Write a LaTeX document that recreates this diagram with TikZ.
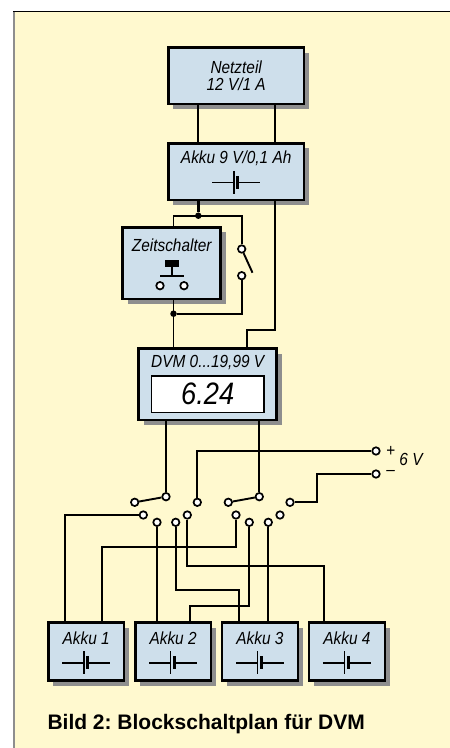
\documentclass[tikz,border=0pt]{standalone}
\usepackage{fontspec}
\setmainfont{Liberation Sans}
\newfontfamily\labelfont[FakeStretch=0.88]{Liberation Sans}
\usepackage{tikz}
\usetikzlibrary{positioning,shadows}
\definecolor{panelyellow}{HTML}{FFF9CF}
\definecolor{boxblue}{HTML}{CEDFEB}
\definecolor{shadowgray}{HTML}{8E8E8E}
\begin{document}
\frenchspacing
\begin{tikzpicture}[
    x=1pt, y=-1pt,
    box/.style={draw, line width=2.5pt, fill=boxblue, outer sep=0pt, inner sep=0pt, align=center,
      font=\labelfont\itshape\fontsize{17.5}{17.6}\selectfont,
      drop shadow={shadow xshift=5pt, shadow yshift=-5pt, fill=shadowgray, opacity=1}},
    smallbox/.style={box, minimum width=75.7pt, minimum height=58pt},
    bigbox/.style={box, minimum width=135.7pt, minimum height=56.5pt},
    lbl/.style={inner sep=0pt, align=center, font=\labelfont\itshape\fontsize{17.5}{17.6}\selectfont},
    note/.style={inner sep=0pt, font=\labelfont\itshape\fontsize{17.5}{17.6}\selectfont},
    contact/.style={draw, circle, fill=white, line width=1.7pt, inner sep=0pt, minimum size=7.5pt},
    dot/.style={circle, fill=black, inner sep=0pt, minimum size=6.5pt},
    wire/.style={line width=1.9pt},
    heavy/.style={line width=3pt},
    battery/.pic={
      \draw[line width=1.7pt] (-24,0) -- (-2.5,0);
      \draw[line width=1.7pt] (1.5,0) -- (24,0);
      \draw[line width=1.7pt] (-2.5,-11.6) -- (-2.5,11.6);
      \draw[line width=3pt] (1.5,-6.3) -- (1.5,6.3);
    }
  ]
    \useasboundingbox (0,0) rectangle (450,748);
    \fill[panelyellow] (13,11) rectangle (450,748);
    \draw[shadowgray, line width=2pt] (14,11) -- (14,748);
    \draw[line width=1pt] (13,11.5) -- (450,11.5);

    \node[bigbox] (netz) at (236.2,75.8) {Netzteil\\12 V/1 A};
    \node[bigbox, below=39.3pt of netz] (akkuN) {};
    \node[lbl] (akkuNtext) at ([yshift=13pt]akkuN.center) {Akku 9 V/0,1 Ah};
    \pic at ([yshift=-10.8pt]akkuN.center) {battery};

    \node[box, minimum width=98pt, minimum height=71.7pt] (zeit) at (171.7,263.2) {};
    \node[lbl] (zeittext) at ([yshift=17.5pt]zeit.center) {Zeitschalter};
    \node[contact] (tasteL) at (160,285.7) {};
    \node[contact] (tasteR) at (184,285.7) {};
    \coordinate (tasteTop) at (172,266.7);
    \fill (165,260) rectangle (179,266.7);
    \draw[wire] (tasteTop) -- (172,275.7);
    \draw[line width=1.9pt] (160,275.7) -- (184,275.7);

    \node[box, minimum width=138pt, minimum height=71.3pt] (dvm) at (207.7,384.3) {};
    \node[lbl] (dvmtext) at ([yshift=21.5pt]dvm.center) {DVM 0...19,99 V};
    \node[draw, fill=white, line width=1.2pt, minimum width=112.7pt, minimum height=36.3pt, inner sep=0pt] (lcd) at (207.7,394.2) {};
    \node[inner sep=0pt, font=\labelfont\itshape\fontsize{31}{33}\selectfont] (lcdtext) at (lcd.center) {6.24};

    \node[smallbox] (akkuA) at (86.2,651.7) {};
    \node[smallbox, right=11.2pt of akkuA] (akkuB) {};
    \node[smallbox, right=11.2pt of akkuB] (akkuC) {};
    \node[smallbox, right=11.2pt of akkuC] (akkuD) {};
    \node[lbl] (akkuAtext) at ([yshift=13.4pt]akkuA.center) {Akku 1};
    \node[lbl] (akkuBtext) at ([yshift=13.4pt]akkuB.center) {Akku 2};
    \node[lbl] (akkuCtext) at ([yshift=13.4pt]akkuC.center) {Akku 3};
    \node[lbl] (akkuDtext) at ([yshift=13.4pt]akkuD.center) {Akku 4};
    \foreach \n in {akkuA,akkuB,akkuC,akkuD}
      \pic at ([yshift=-11pt]\n.center) {battery};

    \node[contact] (swTop) at (241.7,249) {};
    \node[contact] (swBot) at (241.7,275.7) {};
    \coordinate (swEnd) at (252.5,272.7);
    \node[dot] (dotTop) at (198.3,215.7) {};
    \node[dot] (dotBot) at (173.5,313.7) {};

    \node[contact] (poleL) at (166,496.7) {};
    \node[contact] (armL) at (134.7,502.3) {};
    \node[contact] (plusIn) at (197.3,502.3) {};
    \node[contact] (poleR) at (259.3,496.7) {};
    \node[contact] (armR) at (228.3,502.3) {};
    \node[contact] (minusIn) at (290,502.3) {};
    \node[contact] (plus) at (376,451) {};
    \node[contact] (minus) at (376,474) {};
    \node[note] (plustext) at (390.7,451) {+};
    \node[note] (minustext) at (390.7,473.3) {–};
    \node[note] (volt) at (411,459.3) {6 V};

    \node[contact] (la) at (143.3,515) {};
    \node[contact] (lb) at (157,522.3) {};
    \node[contact] (lc) at (175.7,522.3) {};
    \node[contact] (ld) at (187.3,515) {};
    \node[contact] (ra) at (236,515) {};
    \node[contact] (rb) at (249.3,522.3) {};
    \node[contact] (rc) at (268.3,522.3) {};
    \node[contact] (rd) at (280,515) {};

    \node[anchor=base west, inner sep=0pt, font=\bfseries\fontsize{21}{23}\selectfont] (caption) at (47.3,729) {Bild 2: Blockschaltplan für DVM};

    \coordinate (netzL) at (198.3,120);
    \coordinate (netzR) at (275,120);
    \draw[wire] (netz.south -| netzL) -- (akkuN.north -| netzL);
    \draw[wire] (netz.south -| netzR) -- (akkuN.north -| netzR);
    \draw[heavy] (akkuN.south -| netzL) -- (dotTop);
    \coordinate (topL) at (173.5,215.7);
    \coordinate (topR) at (241.7,215.7);
    \draw[wire] (zeit.north -| topL) -- (topL) -- (topR) -- (swTop);
    \draw[wire] (swTop) -- (swEnd);
    \coordinate (botR) at (241.7,313.7);
    \draw[wire] (swBot) -- (botR) -- (dotBot);
    \draw[wire] (zeit.south -| dotBot) -- (dvm.north -| dotBot);
    \coordinate (stepA) at (275,329.7);
    \coordinate (stepB) at (247.3,329.7);
    \draw[wire] (akkuN.south -| stepA) -- (stepA) -- (stepB) -- (dvm.north -| stepB);

    \draw[wire] (dvm.south -| poleL) -- (poleL);
    \draw[wire] (dvm.south -| poleR) -- (poleR);
    \draw[wire] (poleL) -- (armL);
    \draw[wire] (poleR) -- (armR);
    \coordinate (plusUp) at (197.3,451);
    \draw[wire] (plusIn) -- (plusUp) -- (plus);
    \coordinate (minusA) at (317.3,502.3);
    \coordinate (minusB) at (317.3,474);
    \draw[wire] (minusIn) -- (minusA) -- (minusB) -- (minus);

    \coordinate (turnA) at (65,515);
    \draw[wire] (la) -- (turnA) -- (akkuA.north -| turnA);
    \draw[wire] (lb) -- (akkuB.north -| lb);
    \coordinate (turnC) at (175.7,590.3);
    \coordinate (turnCb) at (238.7,590.3);
    \draw[wire] (lc) -- (turnC) -- (turnCb) -- (akkuC.north -| turnCb);
    \coordinate (turnD) at (187.3,565.7);
    \coordinate (turnDb) at (324,565.7);
    \draw[wire] (ld) -- (turnD) -- (turnDb) -- (akkuD.north -| turnDb);
    \coordinate (turnE) at (236,547);
    \coordinate (turnEb) at (102.3,547);
    \draw[wire] (ra) -- (turnE) -- (turnEb) -- (akkuA.north -| turnEb);
    \coordinate (turnF) at (249.3,606.3);
    \coordinate (turnFb) at (190.3,606.3);
    \draw[wire] (rb) -- (turnF) -- (turnFb) -- (akkuB.north -| turnFb);
    \draw[wire] (rc) -- (akkuC.north -| rc);
  \end{tikzpicture}
\end{document}
